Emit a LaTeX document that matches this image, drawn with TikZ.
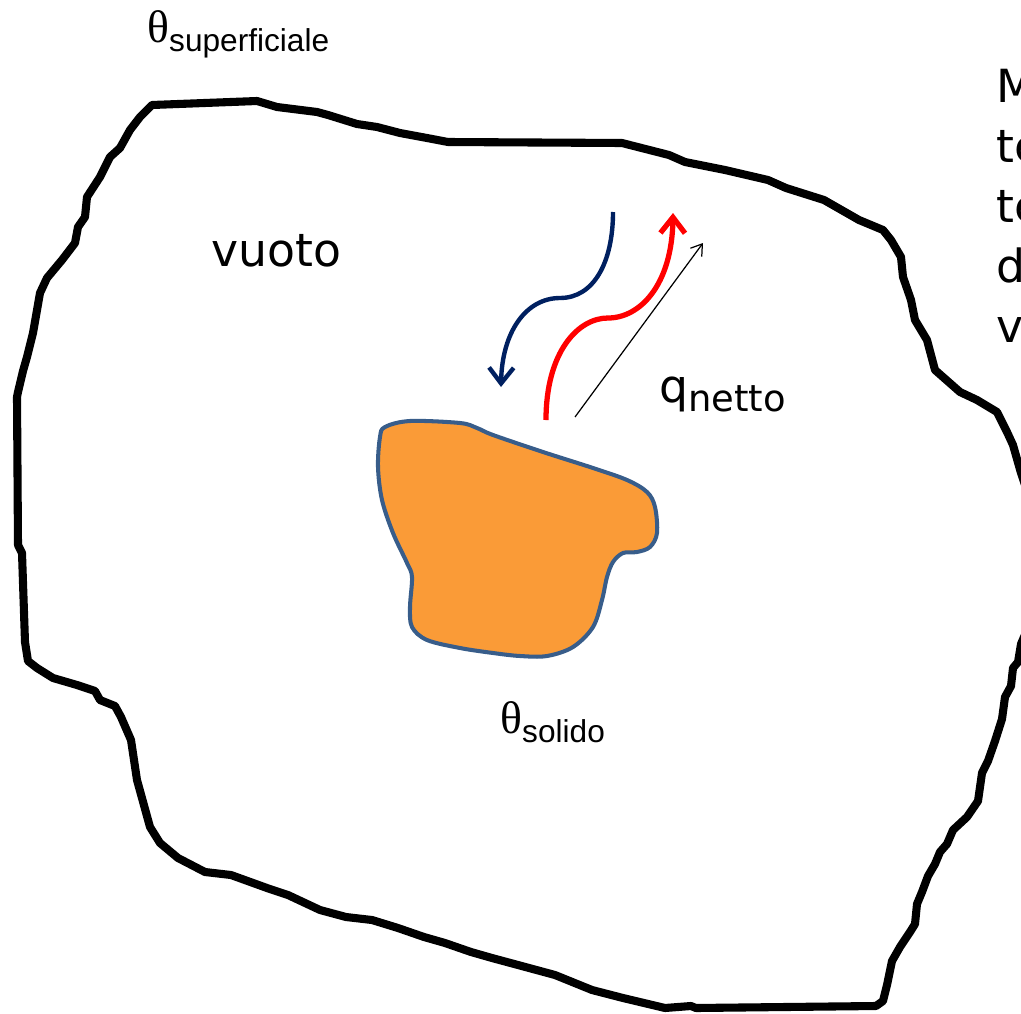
\documentclass[tikz,border=0pt]{standalone}
\usepackage{fontspec}
\setmainfont{DejaVu Sans}
\newfontfamily\grecofont{Liberation Serif}
\newfontfamily\pedicefont{Liberation Sans}
\usetikzlibrary{arrows.meta, positioning}
\definecolor{arancio}{RGB}{250,155,55}
\definecolor{bordoblu}{RGB}{56,93,138}
\definecolor{blunotte}{RGB}{0,32,96}

\begin{document}
\begin{tikzpicture}[x=0.02cm, y=-0.02cm,
    parete/.style={line width=4.6pt, line join=round, line cap=round},
    onda/.style={line width=3pt, -{Straight Barb[length=9pt, width=14pt]}},
    testo/.style={inner sep=0pt, anchor=base west, font=\fontsize{26}{34}\selectfont},
    theta/.style={inner sep=0pt, anchor=base west, font=\grecofont\fontsize{26}{30}\selectfont}]
    \clip (0,0) rectangle (1021,1014);

    % Superficie (contorno irregolare)
    \draw[parete] plot coordinates {
        (152,105) (257,101) (277,107) (317,112) (328,115) (357,124) (377,127)
        (400,133) (427,138) (448,142) (622,143) (669,155) (685,162) (725,170)
        (768,180) (786,188) (824,200) (859,220) (883,230) (891,240) (901,257)
        (903,277) (911,300) (915,320) (927,340) (935,370) (960,392) (977,400)
        (997,412) (1007,432) (1013,445) (1021,473) (1040,530) (1040,600)
        (1021,644) (1018,662) (1013,668) (1011,686) (1005,697) (1002,719)
        (995,741) (988,761) (982,773) (978,801) (967,817) (953,830) (947,844)
        (940,852) (935,864) (928,876) (922,892) (917,904) (915,924) (910,932)
        (900,947) (892,961) (887,985) (883,1001) (876,1006) (696,1008)
        (691,1006) (665,1008) (623,998) (592,990) (555,975) (518,965)
        (492,958) (471,952) (445,943) (424,937) (398,928) (372,920) (346,917)
        (320,910) (288,895) (267,888) (231,875) (205,872) (178,858) (160,843)
        (150,827) (137,780) (131,740) (121,717) (115,706) (100,700) (95,691)
        (77,685) (53,678) (37,668) (28,661) (25,642) (22,553) (18,545)
        (17,397) (18,392) (23,371) (27,357) (33,333) (40,293) (47,278)
        (62,260) (75,243) (78,227) (85,217) (87,197) (100,177) (110,157)
        (120,148) (130,130) (140,117) (152,105)};

    % Solido
    \draw[bordoblu, fill=arancio, line width=2.3pt] plot[smooth cycle, tension=0.55] coordinates {
        (385,427) (410,421) (460,423) (477,428) (493,435) (543,452) (593,468)
        (627,480) (647,492) (655,507) (657,533) (650,547) (637,552) (623,553)
        (613,562) (607,577) (602,600) (593,627) (573,647) (547,656) (520,656)
        (493,653) (460,648) (427,640) (412,627) (410,607) (412,577) (407,563)
        (393,533) (382,500) (378,467) (380,437)};

    % Radiazione
    \coordinate (emesso0) at (546,420);
    \coordinate (emesso1) at (673,213);
    \coordinate (assorbito0) at (613,212);
    \coordinate (assorbito1) at (501,387);
    \coordinate (netto0) at (575,417);
    \coordinate (netto1) at (703,243);
    \draw[onda, red] (emesso0) .. controls (546,352) and (578,318) .. (608,318)
        .. controls (640,318) and (672,285) .. (emesso1);
    \draw[onda, blunotte, line width=2.5pt] (assorbito0) .. controls (613,262) and (594,298) .. (560,298)
        .. controls (526,298) and (502,332) .. (assorbito1);
    \draw[line width=0.7pt, -{Straight Barb[length=6pt, width=8pt]}] (netto0) -- (netto1);

    % Etichette
    \node[testo] (vuoto) at (211,266) {vuoto};
    \node[testo] (qnetto) at (659,402) {q\raisebox{-5.6pt}{\fontsize{21}{24}\selectfont netto}};
    \node[theta] (tsup) at (147,42) {θ\raisebox{-5.6pt}{\pedicefont\fontsize{18}{20}\selectfont superficiale}};
    \node[theta] (tsol) at (500,733) {θ\raisebox{-5.6pt}{\pedicefont\fontsize{18}{20}\selectfont solido}};
    \foreach \riga [count=\i from 0] in {M,te,te,d,v}
        \node[testo] (destra\i) at (996,102+60*\i) {\riga};

\end{tikzpicture}
\end{document}
